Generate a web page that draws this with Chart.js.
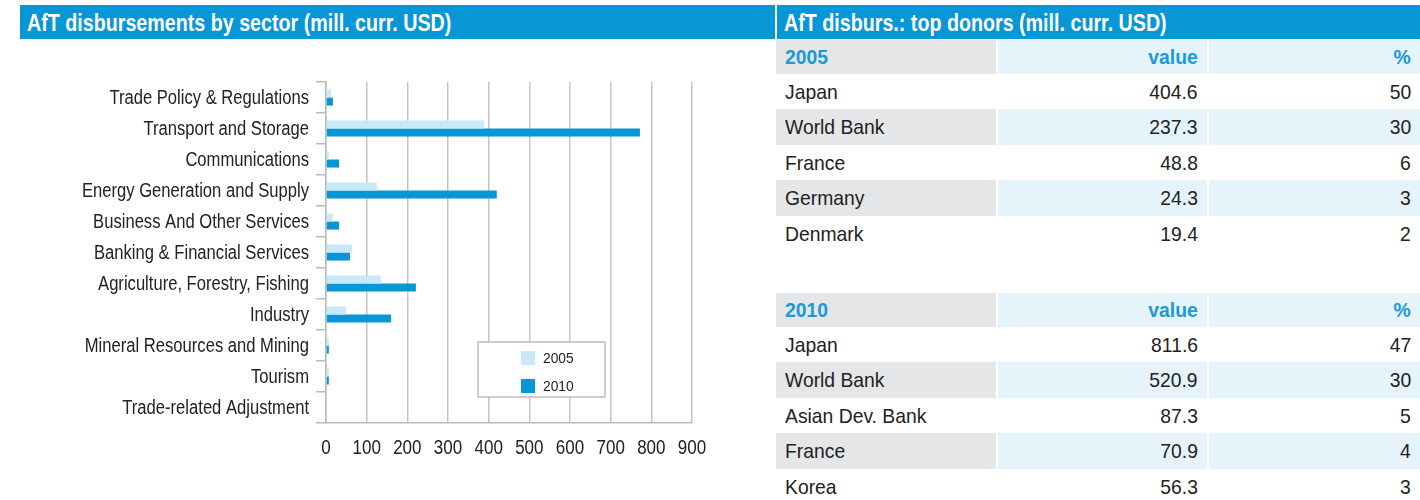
<!DOCTYPE html>
<html>
<head>
<meta charset="utf-8">
<script src="https://cdn.jsdelivr.net/npm/chart.js@4.4.1/dist/chart.umd.min.js"></script>
<style>
  body { margin: 0; background: #fff; }
  #page { position: relative; width: 1420px; height: 500px; overflow: hidden;
          font-family: "Liberation Sans", Arial, sans-serif; }
  .bar-title { position: absolute; top: 5px; height: 34px; line-height: 35px; background: #0796d6;
               color: #fff; font-weight: bold; font-size: 24px; padding-left: 7px; box-sizing: border-box; white-space: nowrap; }
  .bar-title span { display: inline-block; transform: scaleX(0.82); transform-origin: left center; }
  .cell { position: absolute; box-sizing: border-box; font-size: 21px; color: #222; white-space: nowrap; }
  .cell span { display: inline-block; transform: scaleX(0.92); }
  .head { color: #1a9ad6; font-weight: bold; }
  #sectorChart { position: absolute; left: 0; top: 0; }
</style>
</head>
<body>
<div id="page">
  <div class="bar-title" style="left:20px; width:755px;"><span>AfT disbursements by sector (mill. curr. USD)</span></div>
  <div class="bar-title" style="left:777px; width:643px;"><span>AfT disburs.: top donors (mill. curr. USD)</span></div>
  <canvas id="sectorChart" width="770" height="500"></canvas>
  <div id="donors"></div>
</div>
<script>
// sector chart data
const sectors = [
  'Trade Policy & Regulations',
  'Transport and Storage',
  'Communications',
  'Energy Generation and Supply',
  'Business And Other Services',
  'Banking & Financial Services',
  'Agriculture, Forestry, Fishing',
  'Industry',
  'Mineral Resources and Mining',
  'Tourism',
  'Trade-related Adjustment'
];
const values2005 = [12, 388, 7, 125, 17, 64, 135, 49, 7, 7, 0];
const values2010 = [17, 772, 32, 420, 32, 59, 221, 160, 7, 7, 0];

// top donors tables
const donors2005 = ['Japan', 'World Bank', 'France', 'Germany', 'Denmark'];
const donorValues2005 = [404.6, 237.3, 48.8, 24.3, 19.4];
const donorShares2005 = [50, 30, 6, 3, 2];
const donors2010 = ['Japan', 'World Bank', 'Asian Dev. Bank', 'France', 'Korea'];
const donorValues2010 = [811.6, 520.9, 87.3, 70.9, 56.3];
const donorShares2010 = [47, 30, 5, 4, 3];

const family = '"Liberation Sans", Arial, sans-serif';

// no condensed font installed, so tick labels are drawn squeezed
const condensedTicks = {
  id: 'condensedTicks',
  afterDraw(chart) {
    const ctx = chart.ctx;
    const ys = chart.scales.y, xs = chart.scales.x;
    ctx.save();
    ctx.fillStyle = '#222';
    ctx.font = '20px ' + family;
    ctx.textBaseline = 'middle';
    ctx.textAlign = 'right';
    chart.data.labels.forEach((lab, i) => {
      ctx.save();
      ctx.translate(ys.right - 17, ys.getPixelForTick(i) + 1);
      ctx.scale(0.83, 1);
      ctx.fillText(lab, 0, 0);
      ctx.restore();
    });
    ctx.textAlign = 'center';
    xs.ticks.forEach(t => {
      ctx.save();
      ctx.translate(xs.getPixelForValue(t.value), xs.top + 25);
      ctx.scale(0.85, 1);
      ctx.fillText(String(t.label), 0, 0);
      ctx.restore();
    });
    ctx.restore();
  }
};

// legend box drawn inside the plot area
const legendBox = {
  id: 'legendBox',
  afterDraw(chart) {
    const ctx = chart.ctx;
    const a = chart.chartArea;
    const x = a.left + 152, y = a.top + 260, w = 127, h = 55;
    ctx.save();
    ctx.fillStyle = '#fff';
    ctx.fillRect(x, y, w, h);
    ctx.strokeStyle = '#bdbdbd';
    ctx.lineWidth = 1.5;
    ctx.strokeRect(x, y, w, h);
    ctx.font = '15px ' + family;
    ctx.textBaseline = 'middle';
    chart.data.datasets.forEach((ds, i) => {
      ctx.fillStyle = ds.backgroundColor;
      ctx.fillRect(x + 43, y + 9 + i * 28, 14, 14);
      ctx.fillStyle = '#222';
      ctx.save();
      ctx.translate(x + 65, y + 16.5 + i * 28);
      ctx.scale(0.92, 1);
      ctx.fillText(ds.label, 0, 0);
      ctx.restore();
    });
    ctx.restore();
  }
};

const chart = new Chart(document.getElementById('sectorChart'), {
  type: 'bar',
  data: {
    labels: sectors,
    datasets: [
      { label: '2005', data: values2005, backgroundColor: '#c8e9f8', categoryPercentage: 0.52, barPercentage: 1 },
      { label: '2010', data: values2010, backgroundColor: '#0796d6', categoryPercentage: 0.52, barPercentage: 1 }
    ]
  },
  options: {
    indexAxis: 'y',
    responsive: false,
    animation: false,
    layout: { padding: { top: 82, right: 78, bottom: 0, left: 0 } },
    plugins: { legend: { display: false }, tooltip: { enabled: false } },
    scales: {
      x: {
        min: 0, max: 900,
        ticks: { stepSize: 100, display: false },
        grid: { color: '#c4c4c4', lineWidth: 1.5, drawTicks: false },
        border: { color: '#bbb', width: 1.5 },
        afterFit: s => { s.height = 77; }
      },
      y: {
        ticks: { display: false, autoSkip: false },
        grid: { drawOnChartArea: false, tickLength: 10, color: '#bbb', lineWidth: 1.5 },
        border: { color: '#bbb', width: 1.5 },
        afterFit: s => { s.width = 326; }
      }
    }
  },
  plugins: [condensedTicks, legendBox]
});

// donors tables
const cols = [
  { left: 776, width: 220, align: 'left', shade: '#e5e6e8' },
  { left: 998, width: 209, align: 'right', shade: '#e5f4fb' },
  { left: 1209, width: 211, align: 'right', shade: '#e5f4fb' }
];
const holder = document.getElementById('donors');

function addRow(top, height, texts, shaded, isHead) {
  texts.forEach((t, c) => {
    const d = document.createElement('div');
    d.className = 'cell' + (isHead ? ' head' : '');
    d.style.left = cols[c].left + 'px';
    d.style.width = cols[c].width + 'px';
    d.style.top = top + 'px';
    d.style.height = height + 'px';
    d.style.lineHeight = height + 'px';
    d.style.textAlign = cols[c].align;
    d.style.padding = cols[c].align === 'left' ? '0 0 0 9px' : '0 9px 0 0';
    if (shaded) d.style.background = cols[c].shade;
    const s = document.createElement('span');
    s.style.transformOrigin = cols[c].align === 'left' ? 'left center' : 'right center';
    s.textContent = t;
    d.appendChild(s);
    holder.appendChild(d);
  });
}

function buildTable(top, year, names, values, shares) {
  addRow(top, 34, [year, 'value', '%'], true, true);
  names.forEach((n, i) => {
    addRow(top + 34 + i * 35.4, 35.4, [n, values[i].toFixed(1), String(shares[i])], i % 2 === 1, false);
  });
}

buildTable(40, '2005', donors2005, donorValues2005, donorShares2005);
buildTable(293, '2010', donors2010, donorValues2010, donorShares2010);
</script>
</body>
</html>
